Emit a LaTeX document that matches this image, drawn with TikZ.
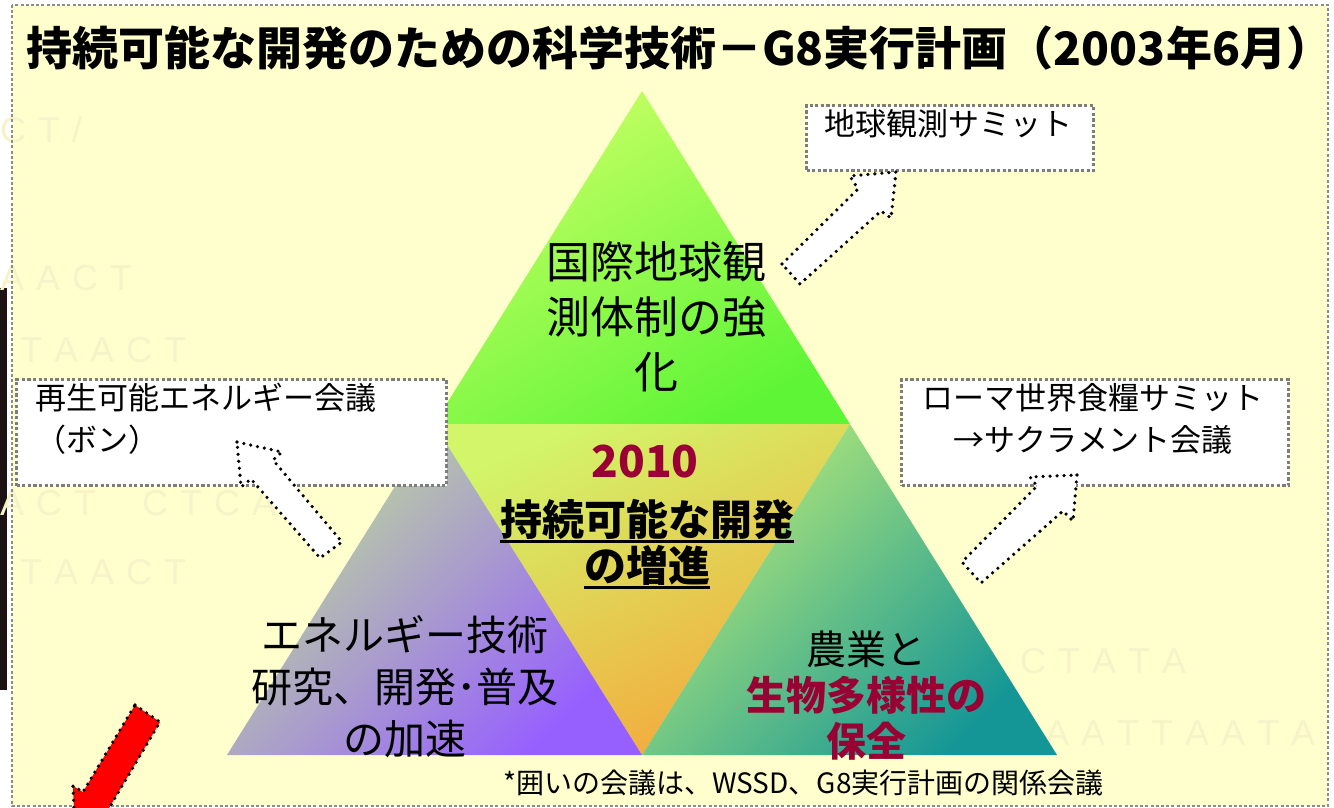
\documentclass[tikz,border=0pt]{standalone}
\usepackage{fontspec}
\newfontfamily\jp{Noto Sans CJK JP}
\newfontfamily\wm{Liberation Sans}
\definecolor{bg}{RGB}{255,255,206}
\definecolor{framegray}{RGB}{140,140,140}
\definecolor{boxgray}{RGB}{125,125,125}
\definecolor{darkred}{RGB}{153,0,51}
\definecolor{wmcol}{RGB}{247,243,201}
\definecolor{strip}{RGB}{28,18,20}
\begin{document}
\begin{tikzpicture}[x=1bp,y=-1bp,
  frame/.style={draw=framegray,line width=2.8bp,dash pattern=on 3bp off 2.2bp},
  infobox/.style={draw=boxgray,fill=white,line width=3bp,dash pattern=on 3.2bp off 2.4bp,inner sep=0pt},
  boxtext/.style={inner sep=0pt,font=\jp\fontsize{31bp}{42bp}\selectfont},
  tritext/.style={inner sep=0pt,align=center},
  blockarrow/.style={fill=white,draw=black,line width=3.6bp,dash pattern=on 0bp off 7bp,line cap=round,line join=round},
  redarrow/.style={fill=red,draw=black,line width=3.6bp,dash pattern=on 0bp off 7bp,line cap=round,line join=round},
  wmark/.style={inner sep=0pt,anchor=west,text=wmcol,font=\wm\fontsize{36bp}{36bp}\selectfont}]
\useasboundingbox (0,0) rectangle (1334,807);
\fill[white] (0,0) rectangle (1334,807);
\fill[bg] (12,5) rectangle (1328,806);
\fill[strip] (0,288) rectangle (7,690);
% faint watermark letters
\node[wmark] (w1) at (0,130) {C\,\,T\,\,/};
\node[wmark] (w2) at (0,278) {A\,\,A\,\,C\,\,T};
\node[wmark] (w3) at (20,350) {T\,\,A\,\,A\,\,C\,\,T};
\node[wmark] (w4) at (0,503) {A\,\,C\,\,T\quad\ C\,\,T\,\,C\,\,A};
\node[wmark] (w5) at (20,572) {T\,\,A\,\,A\,\,C\,\,T};
\node[wmark] (w6) at (1020,661) {C\,\,T\,\,A\,\,T\,\,A};
\node[wmark] (w7) at (1045,733) {A\,\,A\,\,T\,\,T\,\,A\,\,A\,\,T\,\,A};
\draw[frame] (12,5) rectangle (1328,806);
% title
\node[anchor=west,inner sep=0pt,font=\jp\bfseries\fontsize{46bp}{50bp}\selectfont] (title) at (26,48)
  {持続可能な開発のための科学技術－G8実行計画（2003年6月）};
% triangle
\coordinate (A) at (642,91);
\coordinate (L) at (434,424);
\coordinate (R) at (850,424);
\coordinate (BL) at (227,755);
\coordinate (BM) at (642,755);
\coordinate (BR) at (1057,755);
\shade[top color={rgb,255:red,200;green,255;blue,100},bottom color={rgb,255:red,95;green,245;blue,55},shading angle=30]
  (A) -- (L) -- (R) -- cycle;
\shade[top color={rgb,255:red,210;green,245;blue,105},bottom color={rgb,255:red,245;green,168;blue,60},shading angle=25]
  (L) -- (R) -- (BM) -- cycle;
\shade[top color={rgb,255:red,190;green,222;blue,150},bottom color={rgb,255:red,150;green,95;blue,255},shading angle=45]
  (L) -- (BL) -- (BM) -- cycle;
\shade[top color={rgb,255:red,185;green,235;blue,120},bottom color={rgb,255:red,20;green,150;blue,150},shading angle=45]
  (R) -- (BM) -- (BR) -- cycle;
% boxes
\node[infobox,anchor=north west,minimum width=287bp,minimum height=65bp] (obs) at (805,104) {};
\node[boxtext] (obst) at (948,124) {地球観測サミット};
\node[infobox,anchor=north west,minimum width=430bp,minimum height=106bp] (bonn) at (15,378) {};
\node[boxtext,anchor=west,align=left] (bonnt) at (35,419) {再生可能エネルギー会議\\（ボン）};
\node[infobox,anchor=north west,minimum width=387bp,minimum height=106bp] (rome) at (900,378) {};
\node[boxtext,align=center] (romet) at (1093,419) {ローマ世界食糧サミット\\→サクラメント会議};
% block arrows
\draw[blockarrow] (782,264) -- (858,189) -- (850,176) -- (896,172) -- (891,218) -- (881,211) -- (800,284) -- cycle;
\draw[blockarrow] (237,442) -- (282,452) -- (273,460) -- (342,542) -- (320,558) -- (251,479) -- (241,487) -- cycle;
\draw[blockarrow] (1077,475) -- (1073,521) -- (1063,511) -- (981,583) -- (962,562) -- (1037,486) -- (1030,477) -- cycle;
\begin{scope}
\clip (0,0) rectangle (1334,807);
\draw[redarrow] (135,705) -- (160,722) -- (109,808) -- (119,814) -- (75,834) -- (73,786) -- (83,792) -- cycle;
\end{scope}
% triangle texts
\node[tritext,font=\jp\fontsize{44bp}{55bp}\selectfont] (top) at (656,317) {国際地球観\\測体制の強\\化};
\node[tritext,text=darkred,font=\jp\bfseries\fontsize{44bp}{50bp}\selectfont] (yr) at (645,462) {2010};
\node[tritext,font=\jp\bfseries\fontsize{42bp}{46bp}\selectfont] (c1) at (647,519) {持続可能な開発};
\node[tritext,font=\jp\bfseries\fontsize{42bp}{46bp}\selectfont] (c2) at (647,565) {の増進};
\draw[line width=2.5bp] ([yshift=-2bp]c1.south west) -- ([yshift=-2bp]c1.south east);
\draw[line width=2.5bp] ([yshift=-2bp]c2.south west) -- ([yshift=-2bp]c2.south east);
\node[tritext,font=\jp\fontsize{41bp}{52bp}\selectfont] (en) at (405,687) {エネルギー技術\\研究、開発･普及\\の加速};
\node[tritext,font=\jp\fontsize{40bp}{46bp}\selectfont] (ag) at (866,696)
  {農業と\\{\bfseries\color{darkred}生物多様性の}\\{\bfseries\color{darkred}保全}};
% footnote
\node[anchor=west,inner sep=0pt,font=\jp\fontsize{28bp}{30bp}\selectfont] (note) at (503,783)
  {*囲いの会議は、WSSD、G8実行計画の関係会議};
\end{tikzpicture}
\end{document}
